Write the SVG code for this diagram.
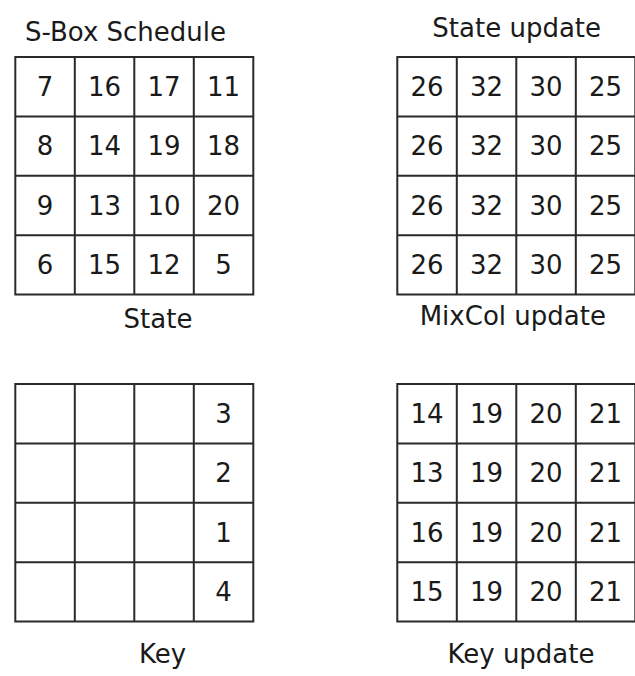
<svg xmlns="http://www.w3.org/2000/svg" width="635" height="676" viewBox="0 0 635 676">
<style>
.g{fill:#fff;stroke:#2a2a2a;stroke-width:2}
.t{font-family:"DejaVu Sans",Verdana,sans-serif;font-size:26px;fill:#1a1a1a;text-anchor:middle}
</style>
<defs>
<g id="grid">
<rect class="g" x="0" y="0" width="238" height="237.5"/>
<path class="g" d="M59.5 0V237.5M119 0V237.5M178.5 0V237.5M0 59.4H238M0 118.8H238M0 178.2H238"/>
</g>
</defs>
<rect width="635" height="676" fill="#fff"/>
<g id="sbox">
<text class="t" x="125.5" y="41">S-Box Schedule</text>
<use href="#grid" x="15.3" y="57"/>
<g class="t">
<text x="45" y="96">7</text><text x="104.5" y="96">16</text><text x="164" y="96">17</text><text x="223.5" y="96">11</text>
<text x="45" y="155">8</text><text x="104.5" y="155">14</text><text x="164" y="155">19</text><text x="223.5" y="155">18</text>
<text x="45" y="215">9</text><text x="104.5" y="215">13</text><text x="164" y="215">10</text><text x="223.5" y="215">20</text>
<text x="45" y="274">6</text><text x="104.5" y="274">15</text><text x="164" y="274">12</text><text x="223.5" y="274">5</text>
</g>
<text class="t" x="158" y="328">State</text>
</g>
<g id="stateupdate">
<text class="t" x="516.7" y="37">State update</text>
<use href="#grid" x="397.3" y="57"/>
<g class="t">
<text x="427" y="96">26</text><text x="486.5" y="96">32</text><text x="546" y="96">30</text><text x="605.5" y="96">25</text>
<text x="427" y="155">26</text><text x="486.5" y="155">32</text><text x="546" y="155">30</text><text x="605.5" y="155">25</text>
<text x="427" y="215">26</text><text x="486.5" y="215">32</text><text x="546" y="215">30</text><text x="605.5" y="215">25</text>
<text x="427" y="274">26</text><text x="486.5" y="274">32</text><text x="546" y="274">30</text><text x="605.5" y="274">25</text>
</g>
<text class="t" x="512.8" y="325">MixCol update</text>
</g>
<g id="key">
<use href="#grid" x="15.3" y="384"/>
<g class="t">
<text x="223.5" y="423">3</text><text x="223.5" y="482">2</text><text x="223.5" y="542">1</text><text x="223.5" y="601">4</text>
</g>
<text class="t" x="162.5" y="663">Key</text>
</g>
<g id="keyupdate">
<use href="#grid" x="397.3" y="384"/>
<g class="t">
<text x="427" y="423">14</text><text x="486.5" y="423">19</text><text x="546" y="423">20</text><text x="605.5" y="423">21</text>
<text x="427" y="482">13</text><text x="486.5" y="482">19</text><text x="546" y="482">20</text><text x="605.5" y="482">21</text>
<text x="427" y="542">16</text><text x="486.5" y="542">19</text><text x="546" y="542">20</text><text x="605.5" y="542">21</text>
<text x="427" y="601">15</text><text x="486.5" y="601">19</text><text x="546" y="601">20</text><text x="605.5" y="601">21</text>
</g>
<text class="t" x="521" y="663">Key update</text>
</g>
<g id="connectors"/>
</svg>
